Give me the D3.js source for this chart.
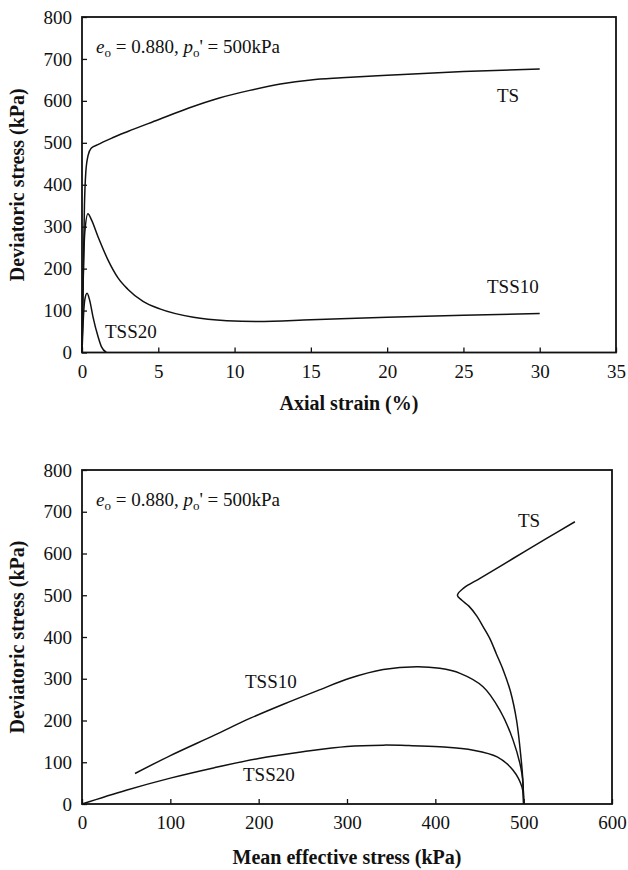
<!DOCTYPE html>
<html>
<head>
<meta charset="utf-8">
<script src="https://cdn.jsdelivr.net/npm/d3@7"></script>
<style>
  html, body { margin: 0; padding: 0; background: #fff; }
  svg { display: block; }
  svg text { font-family: "Liberation Serif", "Times New Roman", Times, serif; fill: #111; }
</style>
</head>
<body>
<svg id="chart" width="628" height="870"></svg>
<script>
// ---- Stress–strain curves: [axial strain %, deviatoric stress kPa]
const strainTS = [[0,0],[0.08,180],[0.16,350],[0.25,430],[0.4,470],[0.6,487],[1.0,495],[2,512],[3,527],[5,555],[7,583],[9,607],[11,625],[13,640],[15,650],[17,655],[20,661],[25,670],[30,676]];
const strainTSS10 = [[0,0],[0.08,170],[0.18,285],[0.39,331],[0.6,318],[1.05,276],[1.7,221],[2.36,178],[3.0,151],[4.0,122],[5.1,104],[7.3,84],[9.5,76],[11.5,74],[15,78],[20,84],[25,89],[30,93]];
const strainTSS20 = [[0,0],[0.08,75],[0.18,125],[0.33,141],[0.5,125],[0.72,85],[1.05,38],[1.27,14],[1.6,0]];

// ---- Effective stress paths: [mean effective stress kPa, deviatoric stress kPa]
const pathTS = [[500,0],[499,60],[497,110],[492,200],[485,270],[477,320],[469,360],[462,395],[454,425],[447,450],[438,474],[430,488],[425,500],[432,517],[451,541],[488,588],[526,636],[558,676]];
const pathTSS10 = [[500,0],[498,73],[488,153],[473,225],[454,281],[428,313],[405,325],[379,329],[341,322],[303,301],[266,271],[228,239],[190,205],[150,165],[100,116],[60,73]];
const pathTSS20 = [[500,0],[498,41],[488,81],[470,113],[443,129],[405,137],[370,140],[341,141],[300,138],[250,125],[200,109],[150,87],[100,62],[50,33],[0,0]];

// ---- Axis ticks
const strainTicks = [0,5,10,15,20,25,30,35];
const pTicks = [0,100,200,300,400,500,600];
const qTicks = [0,100,200,300,400,500,600,700,800];

const svg = d3.select("#chart");

function panel(opt) {
  const x = d3.scaleLinear().domain(opt.xDomain).range([opt.left, opt.right]);
  const y = d3.scaleLinear().domain([0, 800]).range([opt.bottom, opt.top]);
  const g = svg.append("g");

  // tick marks point inward, labels outside
  const xAxis = d3.axisBottom(x).tickValues(opt.xTicks).tickSizeInner(-5).tickSizeOuter(0).tickPadding(12).tickFormat(d3.format("d"));
  const yAxis = d3.axisLeft(y).tickValues(qTicks).tickSizeInner(-5).tickSizeOuter(0).tickPadding(10).tickFormat(d3.format("d"));

  const gx = g.append("g").attr("transform", `translate(0,${opt.bottom})`).call(xAxis);
  const gy = g.append("g").attr("transform", `translate(${opt.left},0)`).call(yAxis);
  [gx, gy].forEach(a => {
    a.attr("font-family", null);
    a.select(".domain").remove();
    a.selectAll(".tick line").attr("stroke", "#111").attr("stroke-width", 1.3);
    a.selectAll(".tick text").attr("font-size", 19).attr("fill", "#111");
  });
  gx.selectAll(".tick text").attr("dy", "0.71em");

  // frame
  g.append("rect")
    .attr("x", opt.left).attr("y", opt.top)
    .attr("width", opt.right - opt.left).attr("height", opt.bottom - opt.top)
    .attr("fill", "none").attr("stroke", "#111").attr("stroke-width", 1.8);

  const line = d3.line().x(d => x(d[0])).y(d => y(d[1])).curve(opt.curve);
  opt.series.forEach(s => {
    g.append("path").datum(s.data).attr("d", line)
      .attr("fill", "none").attr("stroke", "#111").attr("stroke-width", 1.5)
      .attr("stroke-linejoin", "round");
    g.append("text").attr("x", s.lx).attr("y", s.ly).attr("font-size", 19).text(s.name);
  });

  // test conditions
  const t = g.append("text").attr("x", opt.left + 14).attr("y", opt.top + 36).attr("font-size", 19);
  t.append("tspan").attr("font-style", "italic").text("e");
  t.append("tspan").attr("font-size", 13).attr("dy", 4).text("o");
  t.append("tspan").attr("dy", -4).text(" = 0.880, ");
  t.append("tspan").attr("font-style", "italic").text("p");
  t.append("tspan").attr("font-size", 13).attr("dy", 4).text("o");
  t.append("tspan").attr("dy", -4).text("' = 500kPa");

  // axis titles
  g.append("text").attr("x", (opt.left + opt.right) / 2).attr("y", opt.bottom + opt.titleGap)
    .attr("text-anchor", "middle").attr("font-weight", "bold").attr("font-size", 20).text(opt.xTitle);
  g.append("text")
    .attr("transform", `translate(24,${(opt.top + opt.bottom) / 2}) rotate(-90)`)
    .attr("text-anchor", "middle").attr("font-weight", "bold").attr("font-size", 20)
    .text("Deviatoric stress (kPa)");
}

panel({
  left: 82, right: 616, top: 17, bottom: 352.5,
  xDomain: [0, 35], xTicks: strainTicks, curve: d3.curveMonotoneX,
  xTitle: "Axial strain (%)", titleGap: 57,
  series: [
    { name: "TS", data: strainTS, lx: 497, ly: 102 },
    { name: "TSS10", data: strainTSS10, lx: 487, ly: 293 },
    { name: "TSS20", data: strainTSS20, lx: 105, ly: 338 }
  ]
});

panel({
  left: 82, right: 612, top: 470, bottom: 804,
  xDomain: [0, 600], xTicks: pTicks, curve: d3.curveCatmullRom.alpha(0.5),
  xTitle: "Mean effective stress (kPa)", titleGap: 60,
  series: [
    { name: "TS", data: pathTS, lx: 518, ly: 527 },
    { name: "TSS10", data: pathTSS10, lx: 245, ly: 688 },
    { name: "TSS20", data: pathTSS20, lx: 243, ly: 781 }
  ]
});
</script>
</body>
</html>
